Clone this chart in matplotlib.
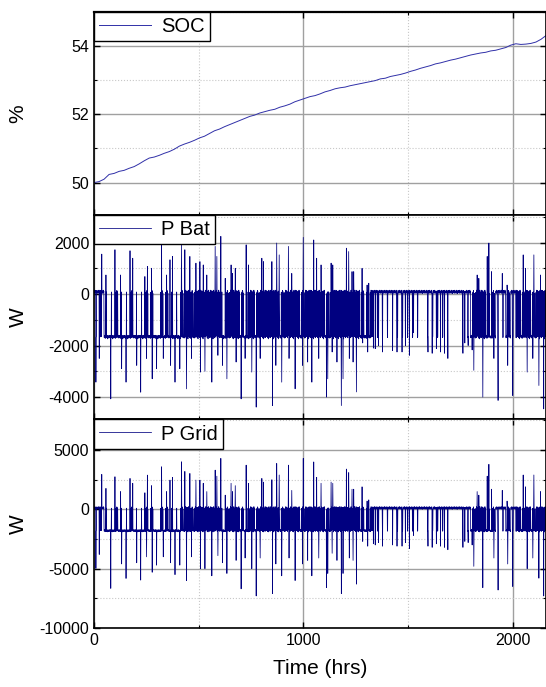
#!/usr/bin/env python3

import matplotlib.pyplot as plt
import numpy as np
from matplotlib.ticker import MultipleLocator

plt.rcParams['font.family'] = ['Liberation Sans', 'DejaVu Sans']
plt.rcParams['axes.unicode_minus'] = False

# state of charge, read once per day (t = 0, 24, ... 2160 hrs)
soc_t = list(range(0, 2161, 24))
soc = [50.00, 50.03, 50.10, 50.24, 50.27, 50.33, 50.36, 50.42, 50.47, 50.55,
       50.64, 50.72, 50.75, 50.80, 50.86, 50.91, 50.98, 51.07, 51.13, 51.18,
       51.24, 51.31, 51.36, 51.44, 51.52, 51.57, 51.64, 51.70, 51.76, 51.82,
       51.88, 51.94, 51.98, 52.04, 52.08, 52.12, 52.15, 52.21, 52.25, 52.30,
       52.37, 52.42, 52.47, 52.52, 52.55, 52.60, 52.66, 52.70, 52.75, 52.78,
       52.80, 52.84, 52.87, 52.90, 52.93, 52.96, 52.99, 53.04, 53.06, 53.11,
       53.14, 53.17, 53.21, 53.26, 53.30, 53.35, 53.39, 53.43, 53.48, 53.51,
       53.55, 53.59, 53.62, 53.66, 53.70, 53.74, 53.77, 53.80, 53.82, 53.86,
       53.88, 53.92, 53.96, 54.03, 54.07, 54.05, 54.06, 54.08, 54.12, 54.20,
       54.31]

# one code per day (90 days) describing the battery pattern of that day
day_codes = ("ZHLLMLLMLLMMLMMLLMDMDD"
             "DDDLMDDMLDMDDDDMDDDMDD"
             "DDMDDDDDDMMHZZZYZZZZZY"
             "ZZZZZYYZZMDDMMZZMZDMDMDD")

# hourly on/off patterns for each day code (h = idle level, l = charging level)
day_patterns = {
    "L": "lllllllllllhllllllllllll",
    "M": "lllllllhlhlhlhlhlhllllll",
    "D": "hlhlhlhlhlhlhlhlhlhlhlhl",
    "H": "hlhlhlhlhlhlhhhhhhhhhhhh",
    "Z": "hhhhhhhhhhllhhhhhhhhhhhh",
    "Y": "hhhhhhhhhhhhhhhhhhhhhhhh",
}

# levels per hour of day
bat_hi = [60, 120, 30, 90, 150, 40, 100, 70, 130, 20, 110, 80,
          60, 140, 50, 90, 120, 30, 100, 70, 150, 40, 80, 110]
bat_lo = [-1650, -1700, -1620, -1680, -1600, -1660, -1720, -1640, -1670, -1610, -1690, -1650,
          -1630, -1700, -1660, -1620, -1680, -1740, -1640, -1600, -1670, -1650, -1710, -1630]
grid_hi = [60, 180, 20, 120, 220, 40, 150, 90, 200, 10, 160, 100,
           70, 210, 50, 130, 170, 30, 140, 80, 230, 40, 110, 160]
grid_lo = [-1780, -1850, -1740, -1820, -1700, -1790, -1880, -1760, -1800, -1720, -1840, -1780,
           -1750, -1860, -1790, -1730, -1820, -1900, -1770, -1710, -1800, -1780, -1870, -1750]

# peaks: hour, battery power, grid power
spike_t = [9, 25, 37, 57, 80, 100, 127, 132, 153, 172, 185, 204, 223, 243, 251, 255,
           275, 278, 299, 323, 331, 347, 363, 366, 375, 387, 410, 418, 434, 442, 458, 466,
           487, 506, 509, 522, 530, 539, 563, 579, 587, 592, 606, 614, 627, 635, 655, 662,
           675, 679, 703, 722, 727, 738, 754, 775, 794, 802, 810, 850, 853, 869, 873, 885,
           897, 929, 932, 945, 961, 996, 1000, 1021, 1041, 1050, 1064, 1074, 1085, 1111, 1117, 1133,
           1138, 1141, 1161, 1182, 1190, 1206, 1217, 1220, 1233, 1238, 1241, 1254, 1281, 1284, 1305, 1308,
           1313, 1335, 1344, 1360, 1379, 1427, 1448, 1472, 1488, 1507, 1527, 1596, 1616, 1636, 1656, 1675,
           1691, 1763, 1772, 1788, 1807, 1815, 1831, 1839, 1858, 1879, 1887, 1900, 1911, 1931, 1951, 1974,
           1977, 2001, 2051, 2062, 2070, 2097, 2102, 2126, 2134, 2149]
bat_spike = [-3420, -2500, 1550, 740, -4070, 1720, 740, -2900, -3420, 1680, 1390, -2770, -3810, 680, -2500, 1070,
             1000, -3290, -2900, 1910, -2500, 740, 1330, -2770, 1460, -3420, -2900, 1980, 1720, -3680, 1460, -2500,
             1200, 1260, -3030, 1130, -3000, 740, -3420, 1850, 1460, -2380, 2240, -2770, 610, -3290, 1130, 800,
             1000, -2640, -4070, -2500, 1910, 1130, -3030, -4390, -2500, 1390, 1260, 1260, -4330, -2770, 1980, 1520,
             -3420, 1850, -2500, 800, -3680, -2770, 2200, -2640, -3420, 2100, 1390, -2500, 1130, -4000, -3290, 1200,
             -2250, 1130, -2640, -4330, -3290, 1780, 1650, -2500, 870, -2640, 870, -3800, 1000, -1900, 350, -2250,
             420, -2100, -2120, -2000, -2250, -2200, -2250, -2250, -2000, -2380, -1500, -2250, -2300, -2120, -2250, -2300,
             -2500, -2300, -1900, -2000, -2170, -2960, 740, 610, -4000, 1460, 1980, 870, -2500, -4130, 800, 350,
             -2770, -3940, 1520, 1000, -3030, -2500, 1520, -3550, 740, -4460]
grid_spike = [-4980, -3800, 2950, 1770, -6660, 2750, 1500, -4600, -5820, 2610, 2200, -4500, -5960, 1400, -4000, 2890,
              2000, -5300, -4700, 3590, -4000, 1500, 2470, -4500, 2700, -5500, -4700, 4010, 3200, -6000, 3030, -4000,
              2470, 2470, -5000, 2200, -5000, 1500, -5600, 3310, 2800, -3900, 4300, -4500, 1200, -5400, 2200, 1500,
              2000, -4300, -6700, -4100, 3730, 2200, -5000, -7300, -4100, 2610, 2300, 2500, -7100, -4600, 3870, 2900,
              -5600, 3730, -4100, 1600, -6000, -4600, 4300, -4300, -5600, 4000, 2700, -4100, 2200, -6600, -5400, 2300,
              -3700, 2200, -4300, -7100, -5400, 3400, 3100, -4100, 1700, -4300, 1700, -6300, 1900, -2700, 700, -3100,
              800, -2900, -3000, -2800, -3100, -3000, -3100, -3100, -2800, -3300, -2200, -3100, -3200, -2900, -3100, -3200,
              -3400, -3200, -2700, -2800, -3000, -4800, 1500, 1200, -6600, 2800, 3800, 1700, -4100, -6800, 1600, 700,
              -4600, -6500, 2900, 1900, -5000, -4100, 2900, -5800, 1500, -7300]


def build_series(hi, lo, spikes):
    # expand the day codes into an hourly series, then put in the peaks
    vals = []
    for code in day_codes:
        for h, state in enumerate(day_patterns[code]):
            vals.append(hi[h] if state == "h" else lo[h])
    vals = np.array(vals, dtype=float)
    vals[np.array(spike_t)] = spikes
    return vals


def style_axis(ax, ylim, major, minor, ylabel):
    ax.set_xlim(0, 2160)
    ax.set_ylim(*ylim)
    ax.xaxis.set_major_locator(MultipleLocator(1000))
    ax.xaxis.set_minor_locator(MultipleLocator(500))
    ax.yaxis.set_major_locator(MultipleLocator(major))
    ax.yaxis.set_minor_locator(MultipleLocator(minor))
    ax.grid(which="major", color="#a0a0a0", linewidth=1.0)
    ax.grid(which="minor", color="#c8c8c8", linewidth=0.8, linestyle=":")
    ax.set_axisbelow(True)
    ax.tick_params(which="both", direction="in", top=True, right=True, labelsize=11.5)
    ax.tick_params(which="major", length=4, width=1.0)
    ax.tick_params(which="minor", length=2.5, width=0.8)
    for sp in ax.spines.values():
        sp.set_linewidth(1.2)
    ax.set_ylabel(ylabel, fontsize=15)
    ax.yaxis.set_label_coords(-0.147, 0.5)
    ax.legend(loc="upper left", borderaxespad=0, fancybox=False, edgecolor="black",
              framealpha=1, fontsize=14.5, handlelength=2.6, borderpad=0.25,
              handletextpad=0.5)


def plot_power(dpi=100):
    hours = np.arange(len(day_codes) * 24)
    p_bat = build_series(bat_hi, bat_lo, bat_spike)
    p_grid = build_series(grid_hi, grid_lo, grid_spike)

    fig = plt.figure(figsize=(546 / dpi, 687 / dpi), dpi=dpi)
    ax1 = fig.add_axes([0.1722, 0.6870, 0.8278, 0.2955])
    ax2 = fig.add_axes([0.1722, 0.3894, 0.8278, 0.2977])
    ax3 = fig.add_axes([0.1722, 0.0859, 0.8278, 0.3035])

    ax1.plot(soc_t, soc, color="#3030a8", linewidth=0.7, label="SOC")
    ax2.plot(hours, p_bat, color="#000080", linewidth=0.55, label="P Bat")
    ax3.plot(hours, p_grid, color="#000080", linewidth=0.55, label="P Grid")

    style_axis(ax1, (49.05, 55), 2, 1, "%")
    style_axis(ax2, (-4870, 3070), 2000, 1000, "W")
    style_axis(ax3, (-10000, 7580), 5000, 2500, "W")

    ax1.spines["top"].set_linewidth(1.6)
    ax1.tick_params(labelbottom=False)
    ax2.tick_params(labelbottom=False)
    ax3.set_xlabel("Time (hrs)", fontsize=15, labelpad=8)
    return fig


if __name__ == "__main__":
    fig = plot_power()
    fig.savefig("out.png", dpi=100)
